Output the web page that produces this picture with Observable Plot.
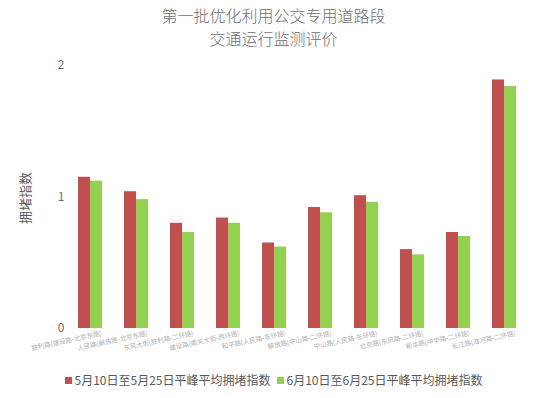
<!DOCTYPE html>
<html>
<head>
<meta charset="utf-8">
<script src="https://cdn.jsdelivr.net/npm/d3@7"></script>
<script src="https://cdn.jsdelivr.net/npm/@observablehq/plot@0.6"></script>
<style>
  body { margin: 0; background: #fff; font-family: "Noto Sans CJK SC", "Noto Sans", sans-serif; }
  #wrap { position: relative; width: 547px; height: 398px; }
  #title { text-align: center; color: #6e6e6e; font-size: 16px; line-height: 23px; padding-top: 4px; height: 46px; font-weight: 300; }
  #ylabel { position: absolute; left: 24px; top: 198px; transform: translate(-50%, -50%) rotate(-90deg); color: #595959; font-size: 13px; white-space: nowrap; }
  #legend { display: flex; justify-content: center; align-items: center; gap: 6px; font-size: 12px; color: #595959; margin-top: 8px; line-height: 20px; }
  .item { display: flex; align-items: center; gap: 3px; }
  .sw { width: 7px; height: 7px; display: inline-block; }
</style>
</head>
<body>
<div id="wrap">
  <div id="title">第一批优化利用公交专用道路段<br>交通运行监测评价</div>
  <div id="chart"></div>
  <div id="ylabel">拥堵指数</div>
  <div id="legend"></div>
</div>
<script>
const categories = [
  "胜利路(建设路-北京东路)",
  "人民路(解放路-北京东路)",
  "东风大街(胜利路-二环路)",
  "建设路(南关大街-西环路)",
  "和平路(人民路-东环路)",
  "解放路(中山路-二环路)",
  "中山路(人民路-东环路)",
  "北京路(东风路-二环路)",
  "新华路(中华路-二环路)",
  "长江路(淮河路-二环路)"
];
const series = ["5月10日至5月25日平峰平均拥堵指数", "6月10日至6月25日平峰平均拥堵指数"];
const mayValues = [1.15, 1.04, 0.80, 0.84, 0.65, 0.92, 1.01, 0.60, 0.73, 1.89];
const juneValues = [1.12, 0.98, 0.73, 0.80, 0.62, 0.88, 0.96, 0.56, 0.70, 1.84];
const yTicks = [0, 1, 2];
const colors = ["#c0504d", "#92d050"];

const data = categories.flatMap((c, i) => [
  {cat: c, s: series[0], v: mayValues[i]},
  {cat: c, s: series[1], v: juneValues[i]}
]);

const chart = Plot.plot({
  width: 547,
  height: 312,
  marginLeft: 68,
  marginRight: 21,
  marginTop: 15,
  marginBottom: 34,
  fx: {domain: categories, paddingInner: 0.447, paddingOuter: 0.1, axis: null, label: null},
  x: {domain: series, padding: 0, axis: null},
  y: {domain: [0, 2], ticks: yTicks, tickSize: 0, tickPadding: 13, label: null, tickFormat: d => String(d)},
  color: {domain: series, range: colors},
  style: {fontFamily: "'Noto Sans CJK SC', sans-serif", fontSize: "12px", color: "#6e6e6e", background: "white"},
  marks: [
    Plot.barY(data, {fx: "cat", x: "s", y: "v", fill: "s"}),
    Plot.text(categories, {fx: d => d, text: d => d, frameAnchor: "bottom", rotate: -12, textAnchor: "end", dx: 12, dy: 7, fontSize: 6.5, fill: "#b0b0b0"})
  ]
});
document.getElementById("chart").appendChild(chart);

const legend = document.getElementById("legend");
series.forEach((s, i) => {
  const item = document.createElement("span");
  item.className = "item";
  const sw = document.createElement("span");
  sw.className = "sw";
  sw.style.background = colors[i];
  const t = document.createElement("span");
  t.textContent = s;
  item.appendChild(sw);
  item.appendChild(t);
  legend.appendChild(item);
});
</script>
</body>
</html>
